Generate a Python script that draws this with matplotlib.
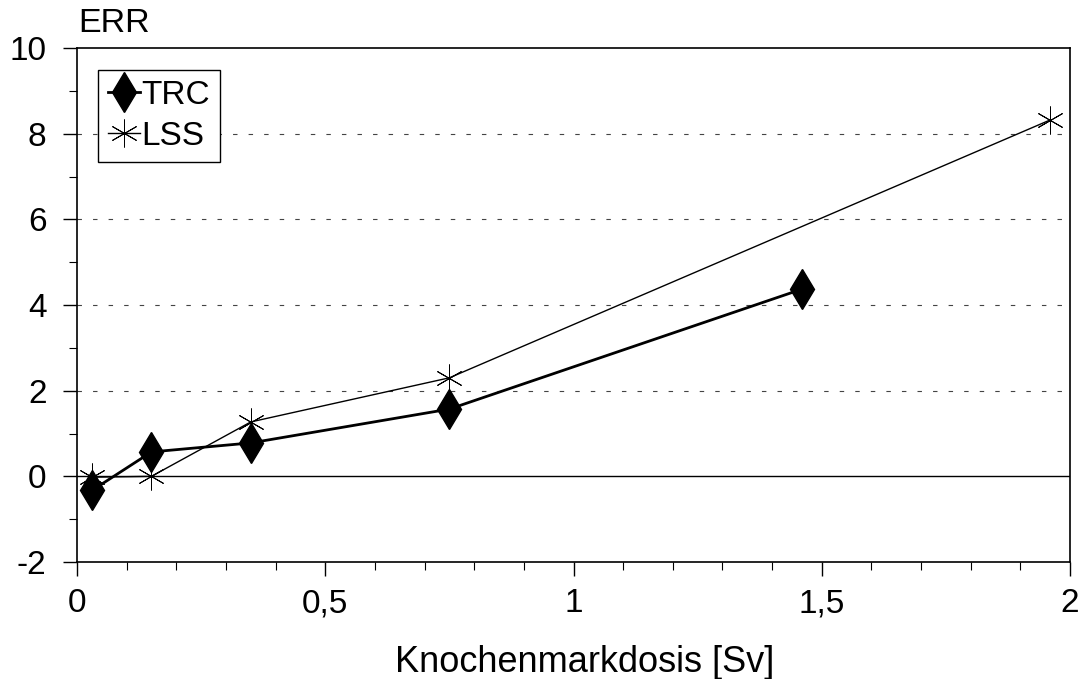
import matplotlib.pyplot as plt
from matplotlib.ticker import MultipleLocator
import numpy as np

# dose [Sv] and excess relative risk
trc_dose = [0.03, 0.15, 0.35, 0.75, 1.46]
trc_err = [-0.33, 0.57, 0.78, 1.57, 4.37]
lss_dose = [0.03, 0.15, 0.35, 0.75, 1.96]
lss_err = [-0.02, 0.0, 1.27, 2.3, 8.32]

x_ticks = [0, 0.5, 1, 1.5, 2]
x_ticklabels = ["0", "0,5", "1", "1,5", "2"]
y_ticks = [-2, 0, 2, 4, 6, 8, 10]


def main():
    plt.rcParams['font.family'] = ['Liberation Sans', 'DejaVu Sans']
    plt.rcParams['axes.unicode_minus'] = False
    fs = 24

    fig = plt.figure(figsize=(10.81, 6.79), dpi=100)
    ax = fig.add_axes([77 / 1081, 1 - 562 / 679, (1070 - 77) / 1081, (562 - 48) / 679])

    # dashed grid lines + zero line
    for g in [2, 4, 6, 8]:
        ax.axhline(g, color='#444444', lw=0.8, dashes=(4, 10), zorder=1)
    ax.axhline(0, color='black', lw=1.0, zorder=1)

    ax.plot(lss_dose, lss_err, color='black', lw=1.0,
            marker=(6, 2, 0), markersize=20, markeredgewidth=0.7,
            label='LSS', zorder=2)
    ax.plot(trc_dose, trc_err, color='black', lw=2.0,
            marker='d', markersize=20, label='TRC', zorder=3)

    ax.set_xlim(0, 2)
    ax.set_ylim(-2, 10)
    ax.set_xticks(x_ticks)
    ax.set_xticklabels(x_ticklabels)
    ax.set_yticks(y_ticks)
    ax.xaxis.set_minor_locator(MultipleLocator(0.1))
    ax.yaxis.set_minor_locator(MultipleLocator(1))

    ax.tick_params(which='major', direction='out', length=10, width=1.0,
                   labelsize=fs)
    ax.tick_params(axis='x', which='major', pad=9)
    ax.tick_params(axis='y', which='major', pad=12)
    ax.tick_params(which='minor', direction='out', length=5.5, width=0.8)
    for s in ax.spines.values():
        s.set_linewidth(1.2)

    handles, labels = ax.get_legend_handles_labels()
    leg = ax.legend(handles[::-1], labels[::-1], loc='upper left',
                    bbox_to_anchor=(0.021, 0.957), borderaxespad=0,
                    fontsize=fs, handlelength=0.95, handletextpad=0.05,
                    borderpad=0.3, labelspacing=0.3, fancybox=False,
                    edgecolor='black', framealpha=1)
    leg.get_frame().set_linewidth(1.0)

    fig.text(78 / 1081, 1 - 24 / 679, 'ERR', fontsize=24.5, ha='left', va='center')
    fig.text(585 / 1081, 1 - 663 / 679, 'Knochenmarkdosis [Sv]', fontsize=26,
             ha='center', va='center')

    fig.savefig('out.png', dpi=100)


if __name__ == "__main__":
    main()
